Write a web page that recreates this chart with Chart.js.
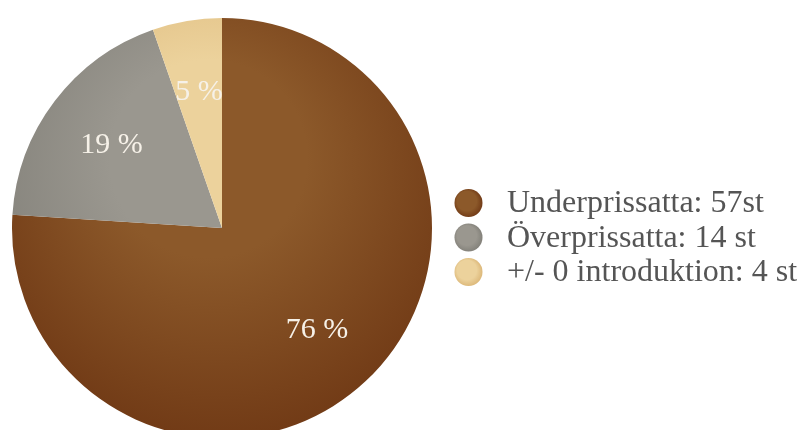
<!DOCTYPE html>
<html>
<head>
<meta charset="utf-8">
<script src="https://cdn.jsdelivr.net/npm/chart.js@4"></script>
<style>
  html, body { margin: 0; padding: 0; background: #fff; overflow: hidden; }
  #wrap { position: relative; width: 806px; height: 440px; }
</style>
</head>
<body>
<div id="wrap"><canvas id="pieChart"></canvas></div>
<script>
// Pie data
const labels = ['Underprissatta: 57st', 'Överprissatta: 14 st', '+/- 0 introduktion: 4 st'];
const counts = [57, 14, 4];
const pctLabels = ['76 %', '19 %', '5 %'];

// colours: [light, dark] of each slice
const shades = [
  ['#8c592a', '#703915'],
  ['#9a978f', '#817f78'],
  ['#ecd29c', '#dbb677']
];

function sliceColor(c) {
  const chart = c.chart;
  const area = chart.chartArea;
  const s = shades[c.dataIndex];
  if (!area) return s[0];
  const cx = (area.left + area.right) / 2;
  const cy = (area.top + area.bottom) / 2;
  const r = Math.min(area.right - area.left, area.bottom - area.top) / 2;
  const g = chart.ctx.createRadialGradient(cx - r * 0.1, cy - r * 0.4, r * 0.05, cx, cy - r * 0.2, r * 1.25);
  g.addColorStop(0, s[0]);
  g.addColorStop(0.35, s[0]);
  g.addColorStop(1, s[1]);
  return g;
}

// percent labels inside slices + legend on the right
const piePlugin = {
  id: 'piePlugin',
  afterDraw(chart) {
    const ctx = chart.ctx;
    const meta = chart.getDatasetMeta(0);
    ctx.save();
    ctx.font = '30px "Liberation Serif", "Times New Roman", serif';
    ctx.fillStyle = '#f6f1e8';
    ctx.textAlign = 'center';
    ctx.textBaseline = 'middle';
    meta.data.forEach((arc, i) => {
      const mid = (arc.startAngle + arc.endAngle) / 2;
      const d = arc.outerRadius * 0.66;
      ctx.fillText(pctLabels[i], arc.x + Math.cos(mid) * d, arc.y + Math.sin(mid) * d + 1);
    });

    // legend
    ctx.font = '32px "Liberation Serif", "Times New Roman", serif';
    ctx.textAlign = 'left';
    ctx.textBaseline = 'alphabetic';
    labels.forEach((t, i) => {
      const y = 203 + i * 34.5;
      const g = ctx.createRadialGradient(465, y - 5, 2, 468, y, 15);
      g.addColorStop(0, shades[i][0]);
      g.addColorStop(0.6, shades[i][0]);
      g.addColorStop(1, shades[i][1]);
      ctx.fillStyle = g;
      ctx.beginPath();
      ctx.arc(468.5, y, 14, 0, Math.PI * 2);
      ctx.fill();
      ctx.fillStyle = '#555555';
      ctx.fillText(t, 507, y + 9);
    });
    ctx.restore();
  }
};

const pieCtx = document.getElementById('pieChart').getContext('2d');
new Chart(pieCtx, {
  type: 'pie',
  data: {
    labels: labels,
    datasets: [{ data: counts, backgroundColor: sliceColor, borderWidth: 0 }]
  },
  options: {
    responsive: true,
    maintainAspectRatio: false,
    animation: false,
    layout: { padding: { left: 12, right: 374, top: 18, bottom: 2 } },
    plugins: { legend: { display: false }, tooltip: { enabled: false } }
  },
  plugins: [piePlugin]
});
</script>
</body>
</html>
